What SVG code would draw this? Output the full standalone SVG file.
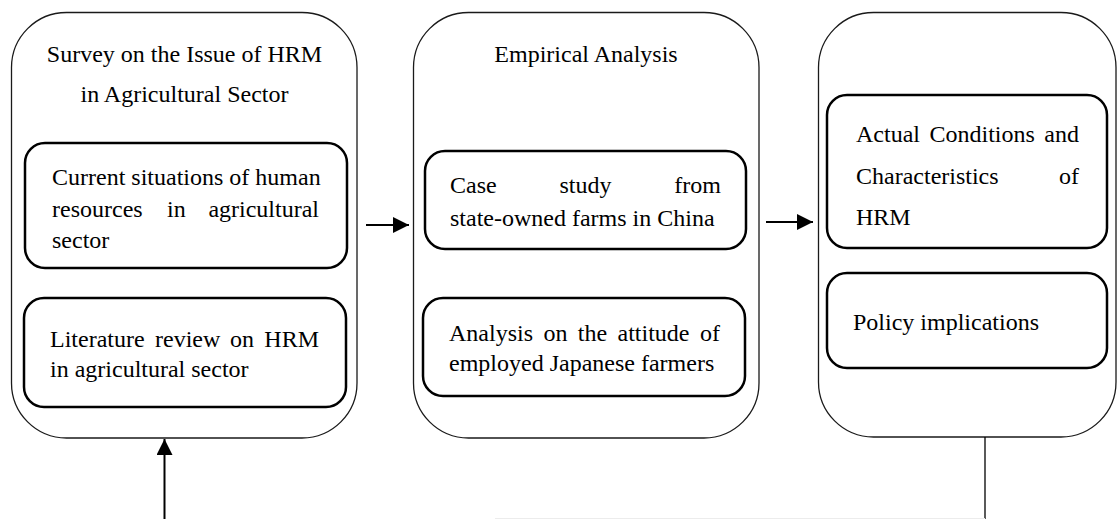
<svg xmlns="http://www.w3.org/2000/svg" width="1117" height="519" viewBox="0 0 1117 519">
<defs>
<style>
.outer{fill:none;stroke:#1a1a1a;stroke-width:1.3}
.inner{fill:none;stroke:#000;stroke-width:2.5}
.t{font-family:"Liberation Serif","Times New Roman",serif;font-size:24px;fill:#000}
.c{text-anchor:middle}
.e{text-anchor:end}
.conn{stroke:#000;stroke-width:2;fill:none}
</style>
<marker id="ah" markerWidth="16" markerHeight="16" viewBox="0 0 16 16" refX="16" refY="8" orient="auto" markerUnits="userSpaceOnUse">
<path d="M0,0 L16,8 L0,16 Z" fill="#000"/>
</marker>
</defs>
<rect width="1117" height="519" fill="#fff"/>

<g id="survey">
<rect class="outer" x="11.5" y="12.5" width="345.5" height="425.5" rx="55" ry="55"/>
<text class="t c" x="184.5" y="62">Survey on the Issue of HRM</text>
<text class="t c" x="184.5" y="102">in Agricultural Sector</text>
</g>
<g id="current">
<rect class="inner" x="25" y="143" width="322" height="125" rx="20" ry="20"/>
<text class="t" x="52" y="185">Current situations of human</text>
<text class="t" y="217"><tspan x="52">resources</tspan><tspan x="167">in</tspan><tspan x="319" text-anchor="end">agricultural</tspan></text>
<text class="t" x="52" y="248">sector</text>
</g>
<g id="literature">
<rect class="inner" x="24" y="298" width="322" height="109" rx="20" ry="20"/>
<text class="t" y="347"><tspan x="50">Literature</tspan><tspan x="155">review</tspan><tspan x="230">on</tspan><tspan x="319" text-anchor="end">HRM</tspan></text>
<text class="t" x="50" y="377">in agricultural sector</text>
</g>

<g id="empirical">
<rect class="outer" x="413.5" y="12.5" width="345.5" height="425.5" rx="55" ry="55"/>
<text class="t c" x="586" y="62">Empirical Analysis</text>
</g>
<g id="case">
<rect class="inner" x="425" y="151" width="321" height="98" rx="20" ry="20"/>
<text class="t" y="193"><tspan x="450">Case</tspan><tspan x="559.5">study</tspan><tspan x="721" text-anchor="end">from</tspan></text>
<text class="t" x="450" y="226">state-owned farms in China</text>
</g>
<g id="attitude">
<rect class="inner" x="423" y="298" width="322" height="98" rx="20" ry="20"/>
<text class="t" y="341"><tspan x="449">Analysis</tspan><tspan x="543.4">on</tspan><tspan x="577.8">the</tspan><tspan x="617.5">attitude</tspan><tspan x="720" text-anchor="end">of</tspan></text>
<text class="t" x="449" y="371">employed Japanese farmers</text>
</g>

<g id="results">
<rect class="outer" x="818.5" y="12.5" width="297.5" height="424.5" rx="55" ry="55"/>
</g>
<g id="actual">
<rect class="inner" x="827" y="95" width="280" height="153" rx="20" ry="20"/>
<text class="t" y="142"><tspan x="856">Actual</tspan><tspan x="929.5">Conditions</tspan><tspan x="1079" text-anchor="end">and</tspan></text>
<text class="t" y="184"><tspan x="856">Characteristics</tspan><tspan x="1079" text-anchor="end">of</tspan></text>
<text class="t" x="856" y="225">HRM</text>
</g>
<g id="policy">
<rect class="inner" x="827" y="273" width="280" height="95" rx="20" ry="20"/>
<text class="t" x="853" y="330">Policy implications</text>
</g>

<g id="connectors">
<line class="conn" x1="366" y1="225" x2="409" y2="225" marker-end="url(#ah)"/>
<line class="conn" x1="766" y1="222" x2="813" y2="222" marker-end="url(#ah)"/>
<line x1="985" y1="437" x2="985" y2="519" stroke="#000" stroke-width="1.3"/>
<line x1="495" y1="518.5" x2="985" y2="518.5" stroke="#ececec" stroke-width="1"/>
<line class="conn" x1="164.5" y1="519" x2="164.5" y2="439" marker-end="url(#ah)"/>
</g>
</svg>
